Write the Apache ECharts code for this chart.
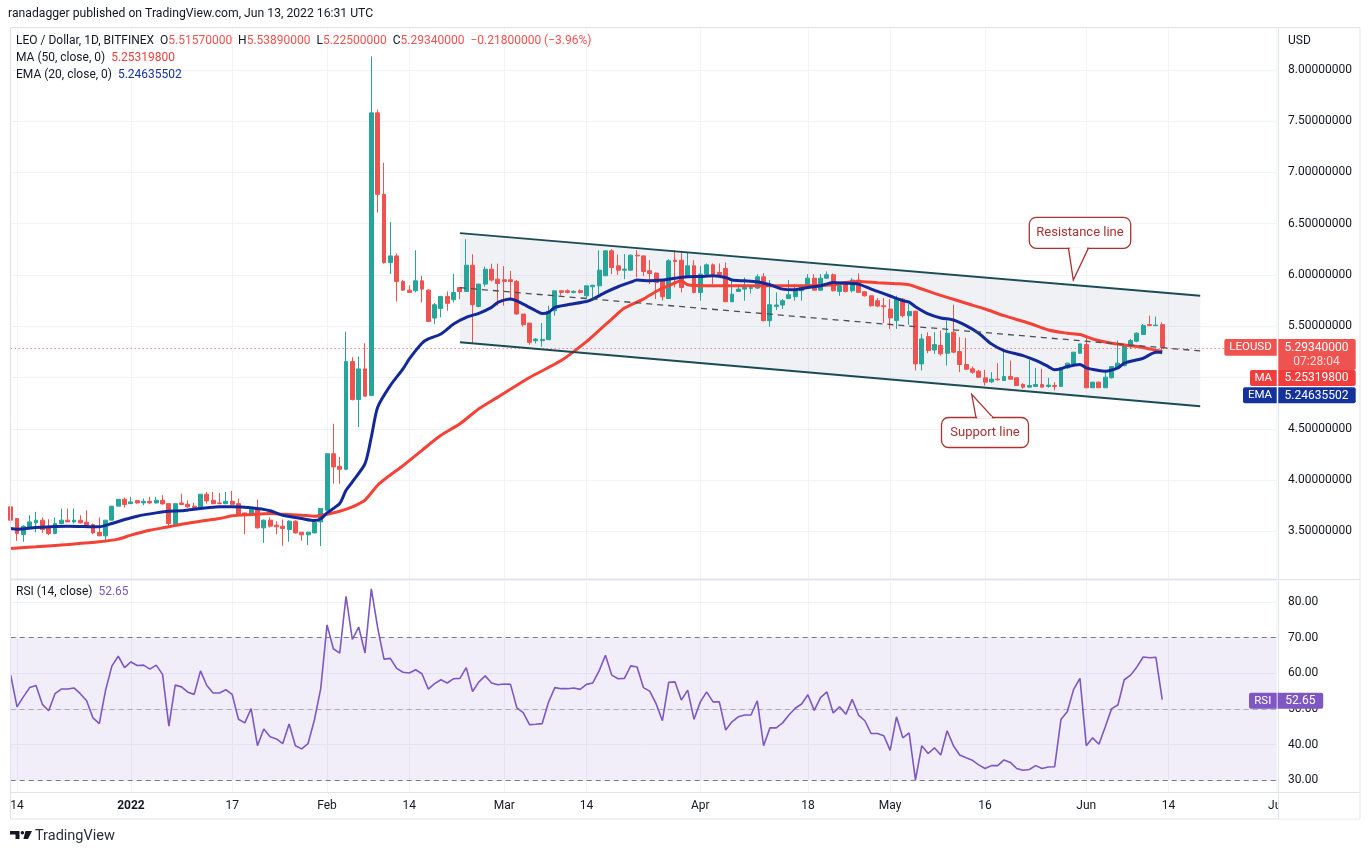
<!DOCTYPE html>
<html>
<head>
<meta charset="utf-8">
<title>LEO / Dollar, 1D, BITFINEX</title>
<script src="https://cdn.jsdelivr.net/npm/echarts@6/dist/echarts.min.js"></script>
<style>
  html, body { margin: 0; padding: 0; background: #fff; }
  #chart { width: 1370px; height: 855px; }
</style>
</head>
<body>
<div id="chart"></div>
<script>
// daily candles starting 2021-12-13, rows are [open, high, low, close]
const candles = [
  [3.739, 3.75, 3.595, 3.609],
  [3.625, 3.63, 3.408, 3.479], [3.469, 3.56, 3.398, 3.55], [3.534, 3.657, 3.53, 3.592], [3.583, 3.69, 3.49, 3.609],
  [3.609, 3.635, 3.485, 3.518], [3.537, 3.618, 3.463, 3.479], [3.479, 3.635, 3.472, 3.576], [3.576, 3.722, 3.57, 3.609],
  [3.609, 3.722, 3.592, 3.592], [3.592, 3.722, 3.576, 3.609], [3.609, 3.657, 3.576, 3.583], [3.589, 3.706, 3.544, 3.557],
  [3.566, 3.576, 3.472, 3.485], [3.489, 3.635, 3.456, 3.456], [3.456, 3.609, 3.408, 3.609], [3.609, 3.745, 3.609, 3.745],
  [3.745, 3.813, 3.745, 3.813], [3.813, 3.829, 3.732, 3.761], [3.77, 3.836, 3.77, 3.787], [3.8, 3.803, 3.77, 3.777],
  [3.777, 3.819, 3.755, 3.793], [3.793, 3.836, 3.764, 3.777], [3.777, 3.836, 3.77, 3.803], [3.803, 3.852, 3.761, 3.767],
  [3.77, 3.77, 3.55, 3.576], [3.57, 3.77, 3.56, 3.77], [3.777, 3.868, 3.755, 3.761], [3.764, 3.803, 3.729, 3.739],
  [3.745, 3.777, 3.722, 3.732], [3.732, 3.862, 3.722, 3.862], [3.862, 3.884, 3.77, 3.797], [3.803, 3.884, 3.764, 3.77],
  [3.777, 3.874, 3.764, 3.77], [3.77, 3.884, 3.764, 3.793], [3.793, 3.894, 3.755, 3.764], [3.77, 3.82, 3.657, 3.667],
  [3.68, 3.68, 3.472, 3.667], [3.657, 3.722, 3.648, 3.716], [3.716, 3.81, 3.527, 3.534], [3.534, 3.615, 3.388, 3.609],
  [3.609, 3.635, 3.537, 3.55], [3.56, 3.599, 3.472, 3.544], [3.55, 3.615, 3.359, 3.527], [3.518, 3.609, 3.398, 3.599],
  [3.599, 3.609, 3.479, 3.485], [3.492, 3.492, 3.408, 3.466], [3.466, 3.492, 3.366, 3.492], [3.485, 3.596, 3.479, 3.589],
  [3.592, 3.722, 3.356, 3.722], [3.706, 4.257, 3.7, 4.257], [4.257, 4.549, 3.965, 4.128], [4.134, 4.225, 3.965, 4.105],
  [4.105, 5.447, 4.095, 5.155], [5.155, 5.198, 4.776, 4.786], [4.786, 5.204, 4.517, 5.084], [5.084, 5.334, 4.818, 4.818],
  [4.825, 8.132, 4.818, 7.581], [7.581, 7.613, 6.608, 6.786], [6.786, 7.094, 6.11, 6.121], [6.121, 6.517, 6.008, 6.186],
  [6.186, 6.209, 5.742, 5.937], [5.937, 5.95, 5.846, 5.852], [5.852, 5.9, 5.83, 5.83], [5.846, 6.241, 5.83, 5.943],
  [5.943, 5.992, 5.732, 5.862], [5.852, 5.862, 5.547, 5.547], [5.58, 5.726, 5.521, 5.71], [5.674, 5.791, 5.586, 5.791],
  [5.791, 5.839, 5.651, 5.723], [5.758, 6.008, 5.732, 5.829], [5.878, 5.878, 5.765, 5.839], [5.839, 6.348, 5.839, 6.095],
  [6.095, 6.202, 5.333, 5.71], [5.693, 5.911, 5.684, 5.911], [5.911, 6.082, 5.885, 6.056], [6.056, 6.11, 5.937, 5.95],
  [5.959, 6.11, 5.7, 5.917], [5.953, 6.086, 5.7, 5.937], [5.953, 6.04, 5.75, 5.937], [5.937, 5.95, 5.612, 5.619],
  [5.619, 5.619, 5.495, 5.515], [5.531, 5.531, 5.32, 5.343], [5.359, 5.385, 5.333, 5.375], [5.359, 5.531, 5.3, 5.372],
  [5.369, 5.7, 5.369, 5.645], [5.651, 5.846, 5.603, 5.846], [5.846, 5.85, 5.8, 5.83], [5.846, 5.86, 5.82, 5.83],
  [5.83, 5.85, 5.82, 5.84], [5.846, 5.86, 5.82, 5.83], [5.797, 5.894, 5.765, 5.894], [5.885, 5.9, 5.748, 5.9],
  [5.894, 6.241, 5.813, 6.047], [5.992, 6.241, 5.992, 6.235], [6.235, 6.251, 6.008, 6.073], [6.089, 6.2, 6.0, 6.047],
  [6.047, 6.203, 5.959, 6.057], [6.047, 6.2, 6.04, 6.193], [6.193, 6.242, 5.976, 6.186], [6.186, 6.19, 5.99, 6.034],
  [6.041, 6.144, 5.911, 6.015], [6.018, 6.024, 5.765, 5.927], [5.943, 5.95, 5.749, 5.788], [5.771, 6.154, 5.765, 6.138],
  [6.144, 6.242, 5.878, 6.131], [6.144, 6.235, 5.83, 5.878], [5.992, 6.219, 5.976, 6.089], [6.089, 6.144, 5.82, 5.83],
  [5.83, 6.089, 5.749, 6.008], [6.008, 6.112, 5.982, 6.099], [6.099, 6.112, 5.911, 6.008], [6.024, 6.112, 5.99, 6.002],
  [6.063, 6.122, 5.735, 5.739], [5.739, 5.959, 5.735, 5.813], [5.839, 5.895, 5.835, 5.862], [5.862, 5.976, 5.749, 5.878],
  [5.869, 5.88, 5.82, 5.878], [5.872, 6.008, 5.862, 5.982], [5.982, 6.018, 5.55, 5.554], [5.554, 5.95, 5.496, 5.71],
  [5.694, 5.83, 5.658, 5.707], [5.707, 5.765, 5.668, 5.749], [5.771, 5.95, 5.765, 5.807], [5.788, 5.911, 5.749, 5.852],
  [5.846, 5.895, 5.749, 5.895], [5.885, 6.008, 5.878, 5.969], [5.969, 6.008, 5.852, 5.852], [5.852, 6.008, 5.846, 5.969],
  [5.969, 6.034, 5.959, 6.002], [6.002, 6.015, 5.839, 5.846], [5.839, 5.911, 5.797, 5.895], [5.927, 5.93, 5.83, 5.839],
  [5.846, 5.969, 5.83, 5.95], [5.95, 6.015, 5.83, 5.83], [5.836, 5.84, 5.79, 5.797], [5.797, 5.8, 5.69, 5.7],
  [5.749, 5.775, 5.684, 5.697], [5.7, 5.775, 5.531, 5.69], [5.668, 5.766, 5.474, 5.581], [5.555, 5.798, 5.474, 5.765],
  [5.765, 5.775, 5.586, 5.603], [5.603, 5.717, 5.515, 5.645], [5.646, 5.652, 5.068, 5.133], [5.133, 5.425, 5.068, 5.376],
  [5.399, 5.441, 5.237, 5.263], [5.269, 5.441, 5.231, 5.321], [5.312, 5.458, 5.214, 5.231], [5.237, 5.555, 5.117, 5.432],
  [5.441, 5.71, 5.237, 5.247], [5.253, 5.393, 5.052, 5.127], [5.127, 5.386, 5.075, 5.081], [5.085, 5.107, 5.036, 5.052],
  [5.062, 5.075, 4.997, 5.003], [4.997, 5.075, 4.922, 4.955], [4.958, 5.052, 4.945, 4.984], [4.984, 5.14, 4.971, 4.978],
  [4.971, 5.279, 4.965, 5.01], [5.01, 5.166, 4.978, 4.984], [4.997, 5.003, 4.919, 4.922], [4.932, 4.945, 4.89, 4.906],
  [4.906, 5.172, 4.906, 4.922], [4.913, 5.094, 4.906, 4.932], [4.932, 5.085, 4.906, 4.906], [4.913, 4.997, 4.9, 4.926],
  [4.922, 4.955, 4.874, 4.913], [4.913, 5.101, 4.913, 5.094], [5.094, 5.14, 5.085, 5.14], [5.133, 5.247, 5.127, 5.247],
  [5.237, 5.328, 5.231, 5.328], [5.321, 5.386, 4.9, 4.9], [4.9, 4.955, 4.9, 4.955], [4.955, 4.96, 4.9, 4.9],
  [4.9, 5.052, 4.9, 5.003], [4.997, 5.107, 4.99, 5.107], [5.094, 5.36, 5.085, 5.14], [5.117, 5.328, 5.107, 5.321],
  [5.321, 5.376, 5.279, 5.36], [5.354, 5.441, 5.344, 5.432], [5.419, 5.522, 5.419, 5.506], [5.516, 5.603, 5.506, 5.506],
  [5.506, 5.594, 5.506, 5.5114], [5.5157, 5.5389, 5.225, 5.2934]
];

// RSI(14), one value per day from 2021-12-13
const rsi14 = [
  59.5,
  50.6, 53.4, 56.0, 56.6, 51.3, 49.5, 54.3, 55.6, 55.6, 55.9,
  54.3, 52.3, 47.5, 45.9, 55.3, 62.1, 64.8, 61.6, 63.2, 62.2,
  62.3, 61.2, 62.3, 59.7, 45.2, 56.7, 56.2, 54.7, 54.1, 60.7,
  56.6, 54.5, 54.5, 55.4, 54.1, 47.1, 46.1, 50.1, 39.7, 44.4,
  42.2, 41.6, 40.3, 45.8, 39.7, 38.8, 40.3, 46.9, 55.7, 73.6,
  66.9, 65.7, 81.6, 69.5, 73.0, 65.7, 83.7, 72.8, 64.0, 64.2,
  61.4, 60.3, 60.1, 61.0, 59.9, 55.6, 57.1, 58.2, 57.3, 58.5,
  58.6, 61.6, 54.9, 57.6, 59.3, 57.3, 56.8, 57.0, 56.9, 50.3,
  49.0, 45.6, 45.7, 45.9, 51.9, 56.0, 55.7, 55.7, 55.9, 55.5,
  56.9, 57.3, 60.7, 65.1, 59.5, 58.5, 58.6, 62.1, 61.8, 56.0,
  55.0, 51.5, 46.7, 57.5, 57.6, 52.5, 55.3, 47.1, 52.0, 54.8,
  52.0, 52.0, 44.1, 46.4, 47.8, 48.3, 48.3, 52.3, 39.7, 44.7,
  44.7, 46.1, 48.3, 50.2, 51.4, 54.0, 49.6, 53.2, 54.8, 48.9,
  50.6, 48.5, 52.7, 48.3, 46.7, 43.1, 43.1, 42.5, 38.4, 47.8,
  41.9, 43.3, 30.1, 39.7, 37.5, 39.1, 37.1, 43.9, 39.7, 37.1,
  36.3, 35.6, 34.3, 33.3, 34.1, 34.1, 35.7, 35.0, 33.3, 32.8,
  33.0, 34.1, 33.3, 33.7, 33.8, 47.1, 49.2, 55.5, 58.6, 39.7,
  41.9, 40.1, 45.0, 50.1, 51.1, 58.2, 59.5, 61.8, 64.6, 64.4,
  64.5, 52.65
];

// moving averages: [day index from 2021-12-13, value]
const ma50 = [
  [0, 3.333], [4, 3.349], [9, 3.372], [14, 3.398], [17, 3.424], [19, 3.463], [22, 3.511], [25, 3.544],
  [27, 3.57], [30, 3.599], [33, 3.625], [35, 3.651], [38, 3.664], [41, 3.674], [43, 3.667], [46, 3.657],
  [48, 3.648], [50, 3.667], [52, 3.696], [54, 3.739], [56, 3.805], [58, 3.95], [60, 4.05], [62, 4.14],
  [65, 4.29], [68, 4.436], [71, 4.549], [74, 4.695], [77, 4.809], [82, 5.0], [87, 5.165], [91, 5.35],
  [93, 5.46], [95, 5.57], [97, 5.677], [100, 5.765], [102, 5.839], [104, 5.895], [106, 5.943], [107, 5.904],
  [110, 5.895], [115, 5.895], [120, 5.895], [125, 5.895], [130, 5.904], [132, 5.927], [134, 5.937], [137, 5.925],
  [140, 5.915], [142, 5.905], [144, 5.863], [146, 5.821], [148, 5.782], [151, 5.724], [154, 5.668], [157, 5.603],
  [161, 5.529], [164, 5.464], [167, 5.432], [169, 5.419], [171, 5.376], [174, 5.334], [178, 5.302], [180, 5.279],
  [182, 5.2532]
];
const ema20 = [
  [0, 3.528], [1, 3.521], [4, 3.537], [9, 3.55], [14, 3.544], [16, 3.576], [18, 3.615], [20, 3.648],
  [23, 3.68], [25, 3.696], [27, 3.70], [29, 3.716], [31, 3.729], [33, 3.739], [35, 3.739], [38, 3.729],
  [41, 3.70], [43, 3.657], [46, 3.625], [48, 3.605], [49, 3.622], [50, 3.68], [52, 3.771], [53, 3.9],
  [54, 3.982], [56, 4.16], [57, 4.42], [58, 4.711], [60, 4.922], [62, 5.084], [63, 5.181], [65, 5.334],
  [66, 5.376], [68, 5.425], [70, 5.522], [72, 5.587], [74, 5.626], [76, 5.684], [77, 5.732], [79, 5.765],
  [81, 5.716], [83, 5.651], [84, 5.625], [85, 5.635], [86, 5.684], [88, 5.71], [91, 5.742], [92, 5.765],
  [94, 5.83], [96, 5.885], [98, 5.93], [99, 5.95], [101, 5.943], [103, 5.95], [105, 5.969], [107, 5.982],
  [109, 5.985], [111, 5.992], [113, 5.976], [114, 5.95], [116, 5.943], [118, 5.933], [120, 5.904], [122, 5.862],
  [124, 5.856], [126, 5.878], [128, 5.895], [130, 5.927], [132, 5.92], [134, 5.911], [136, 5.862], [137, 5.84],
  [139, 5.795], [141, 5.75], [142, 5.735], [143, 5.69], [145, 5.62], [147, 5.581], [149, 5.561], [151, 5.506],
  [153, 5.432], [155, 5.328], [157, 5.263], [160, 5.214], [162, 5.166], [164, 5.107], [165, 5.075], [166, 5.085],
  [167, 5.107], [169, 5.127], [170, 5.094], [172, 5.068], [173, 5.062], [175, 5.094], [176, 5.14], [179, 5.188],
  [181, 5.247], [182, 5.246]
];

// descending channel drawn on the chart: [day index, price]
const resistance = [[71, 6.408], [188, 5.798]];
const support = [[71, 5.343], [188, 4.72]];
const midline = [[71, 5.876], [188, 5.259]];
const lastClose = 5.2934;

const tickDates = ['2021-12-14', '2022-01-01', '2022-01-17', '2022-02-01', '2022-02-14', '2022-03-01', '2022-03-14',
  '2022-04-01', '2022-04-18', '2022-05-01', '2022-05-16', '2022-06-01', '2022-06-14', '2022-07-01'];
const tickText = ['14', '2022', '17', 'Feb', '14', 'Mar', '14', 'Apr', '18', 'May', '16', 'Jun', '14', 'Jul'];

const days = [];
const t0 = Date.UTC(2021, 11, 13);
for (let k = 0; k < 201; k++) {
  days.push(new Date(t0 + k * 864e5).toISOString().slice(0, 10));
}

const UP = '#26a69a', DOWN = '#ef5350', TXT = '#131722', GRIDC = '#f0f3fa';
const FONT = 'Roboto, "Noto Sans", sans-serif';
const isTick = (idx, val) => tickDates.indexOf(val) >= 0;

const chart = echarts.init(document.getElementById('chart'), null, { renderer: 'canvas' });

function txt(x, y, text, opts) {
  return {
    type: 'text', x: x, y: y, z: 100, silent: true,
    style: Object.assign({
      text: text, fill: TXT, fontSize: 12, fontFamily: FONT,
      align: 'left', verticalAlign: 'middle', textAlign: 'left', textVerticalAlign: 'middle'
    }, opts || {})
  };
}
function box(x, y, w, h, fill, r) {
  return { type: 'rect', z: 99, silent: true, shape: { x: x, y: y, width: w, height: h, r: r || 0 }, style: { fill: fill } };
}
function callout(x, y, w, h, tail, label) {
  return [
    { type: 'polygon', z: 98, silent: true, shape: { points: tail },
      style: { fill: '#fff', stroke: '#a93232', lineWidth: 1.3 } },
    { type: 'rect', z: 97, silent: true, shape: { x: x, y: y, width: w, height: h, r: 7 },
      style: { fill: '#fff', stroke: '#a93232', lineWidth: 1.3 } },
    { type: 'line', z: 99, silent: true, shape: { x1: tail[0][0] + 1.2, y1: tail[0][1], x2: tail[2][0] - 1.2, y2: tail[2][1] },
      style: { stroke: '#fff', lineWidth: 2.4 } },
    txt(x + w / 2, y + h / 2, label, { fill: '#a93232', fontSize: 13, align: 'center', textAlign: 'center' })
  ];
}

const legendRich = (valueColor) => ({
  k: { fill: TXT, fontSize: 12, fontFamily: FONT },
  v: { fill: valueColor, fontSize: 12, fontFamily: FONT }
});

const graphics = [
  // frame and pane separators
  { type: 'rect', z: 90, silent: true, shape: { x: 10.5, y: 27.5, width: 1349.5, height: 791.5 },
    style: { fill: 'none', stroke: '#e0e3eb', lineWidth: 1 } },
  { type: 'line', z: 90, silent: true, shape: { x1: 10.5, y1: 579.5, x2: 1360, y2: 579.5 }, style: { stroke: '#e0e3eb', lineWidth: 1 } },
  { type: 'line', z: 90, silent: true, shape: { x1: 10.5, y1: 792.5, x2: 1360, y2: 792.5 }, style: { stroke: '#e0e3eb', lineWidth: 1 } },
  { type: 'rect', z: 95, silent: true, shape: { x: 1279, y: 793.5, width: 80, height: 25 }, style: { fill: '#fff' } },
  { type: 'line', z: 96, silent: true, shape: { x1: 1278.5, y1: 27.5, x2: 1278.5, y2: 819 }, style: { stroke: '#e0e3eb', lineWidth: 1 } },

  // header and legends
  txt(8, 14, 'ranadagger published on TradingView.com, Jun 13, 2022 16:31 UTC', { fontSize: 12.2 }),
  txt(16, 41, '{k|LEO / Dollar, 1D, BITFINEX}  {k|O}{v|5.51570000}  {k|H}{v|5.53890000}  {k|L}{v|5.22500000}  {k|C}{v|5.29340000}  {v|\u22120.21800000 (\u22123.96%)}',
    { rich: legendRich(DOWN) }),
  txt(16, 58, '{k|MA (50, close, 0)}  {v|5.25319800}', { rich: legendRich('#f23d3d') }),
  txt(16, 75, '{k|EMA (20, close, 0)}  {v|5.24635502}', { rich: legendRich('#13329b') }),
  txt(16, 592, '{k|RSI (14, close)}  {v|52.65}', { rich: legendRich('#7e57c2') }),
  txt(1288, 41, 'USD'),

  // price tags on the right scale
  box(1224.3, 339, 52.4, 16.7, DOWN, [2, 0, 0, 2]),
  txt(1250.5, 347.5, 'LEOUSD', { fill: '#fff', fontSize: 11.5, align: 'center', textAlign: 'center' }),
  box(1278.3, 339, 77.4, 31, DOWN, [0, 2, 2, 0]),
  txt(1316.5, 347.5, '5.29340000', { fill: '#fff', align: 'center', textAlign: 'center' }),
  txt(1316.5, 362, '07:28:04', { fill: 'rgba(255,255,255,0.8)', align: 'center', textAlign: 'center' }),
  box(1250, 370, 26.7, 16, '#f23d3d', [2, 0, 0, 2]),
  txt(1263.3, 378.3, 'MA', { fill: '#fff', fontSize: 11.5, align: 'center', textAlign: 'center' }),
  box(1278.3, 370, 77.4, 16, '#f23d3d', [0, 2, 2, 0]),
  txt(1316.5, 378.3, '5.25319800', { fill: '#fff', align: 'center', textAlign: 'center' }),
  box(1243, 387.3, 33.7, 16, '#13329b', [2, 0, 0, 2]),
  txt(1260, 395.5, 'EMA', { fill: '#fff', fontSize: 11.5, align: 'center', textAlign: 'center' }),
  box(1278.3, 387.3, 77.4, 16, '#13329b', [0, 2, 2, 0]),
  txt(1316.5, 395.5, '5.24635502', { fill: '#fff', align: 'center', textAlign: 'center' }),
  box(1249, 692.7, 27.7, 16, '#7e57c2', [2, 0, 0, 2]),
  txt(1262.8, 701, 'RSI', { fill: '#fff', fontSize: 11.5, align: 'center', textAlign: 'center' }),
  box(1277.6, 692.7, 45.6, 16, '#7e57c2', [0, 2, 2, 0]),
  txt(1300.4, 701, '52.65', { fill: '#fff', align: 'center', textAlign: 'center' }),

  // footer logo
  { type: 'polygon', z: 100, silent: true,
    shape: { points: [[10, 831], [19.5, 831], [19.5, 839], [15.5, 839], [15.5, 834.6], [10, 834.6]] }, style: { fill: TXT } },
  { type: 'circle', z: 100, silent: true, shape: { cx: 22.4, cy: 832.8, r: 1.8 }, style: { fill: TXT } },
  { type: 'polygon', z: 100, silent: true,
    shape: { points: [[25.5, 831], [32, 831], [28, 839], [23.4, 839]] }, style: { fill: TXT } },
  txt(35, 836.5, 'TradingView', { fontSize: 14.5, fill: '#2a2e39' })
].concat(
  callout(1029.3, 217.3, 101.4, 31, [[1068.5, 248.3], [1073.3, 280], [1088.3, 248.3]], 'Resistance line'),
  callout(941.5, 417.5, 87, 30, [[976, 417.5], [971.7, 394.3], [993, 417.5]], 'Support line')
);

const option = {
  animation: false,
  backgroundColor: '#fff',
  textStyle: { fontFamily: FONT },
  grid: [
    { left: 10.7, top: 27, width: 1265.4, height: 551 },
    { left: 10.7, top: 580, width: 1265.4, height: 212 }
  ],
  xAxis: [
    { type: 'category', gridIndex: 0, data: days, boundaryGap: false,
      axisLine: { show: false }, axisTick: { show: false }, axisLabel: { show: false },
      splitLine: { show: true, interval: isTick, lineStyle: { color: GRIDC, width: 1 } } },
    { type: 'category', gridIndex: 1, data: days, boundaryGap: false,
      axisLine: { show: false }, axisTick: { show: false },
      axisLabel: {
        interval: isTick, margin: 8, color: TXT, fontSize: 12, fontFamily: FONT,
        formatter: function (v) {
          const t = tickText[tickDates.indexOf(v)];
          return /^\d{4}$/.test(t) ? '{b|' + t + '}' : t;
        },
        rich: { b: { fontWeight: 'bold', fontSize: 12, color: TXT, fontFamily: FONT } }
      },
      splitLine: { show: true, interval: isTick, lineStyle: { color: GRIDC, width: 1 } } }
  ],
  yAxis: [
    { type: 'value', gridIndex: 0, position: 'right', min: 3.045, max: 8.418,
      splitNumber: 11, minInterval: 0.5, maxInterval: 0.5,
      axisLine: { show: false }, axisTick: { show: false },
      axisLabel: { margin: 12, color: TXT, fontSize: 12, fontFamily: FONT, showMinLabel: false, showMaxLabel: false,
        formatter: v => v.toFixed(8) },
      splitLine: { lineStyle: { color: GRIDC } } },
    { type: 'value', gridIndex: 1, position: 'right', min: 26.7, max: 86.2,
      splitNumber: 6, minInterval: 10, maxInterval: 10,
      axisLine: { show: false }, axisTick: { show: false },
      axisLabel: { margin: 12, color: TXT, fontSize: 12, fontFamily: FONT, showMinLabel: false, showMaxLabel: false,
        formatter: v => v.toFixed(2) },
      splitLine: { lineStyle: { color: GRIDC } } }
  ],
  series: [
    {
      name: 'channel', type: 'custom', xAxisIndex: 0, yAxisIndex: 0, z: 1, silent: true,
      encode: { x: [0, 2], y: [1, 3, 4, 5] },
      data: [[resistance[0][0], resistance[0][1], resistance[1][0], resistance[1][1], support[1][1], support[0][1]]],
      renderItem: function (params, api) {
        const pts = [
          api.coord([api.value(0), api.value(1)]),
          api.coord([api.value(2), api.value(3)]),
          api.coord([api.value(2), api.value(4)]),
          api.coord([api.value(0), api.value(5)])
        ];
        return { type: 'polygon', shape: { points: pts }, style: { fill: 'rgba(120,130,155,0.11)' } };
      }
    },
    {
      name: 'LEOUSD', type: 'candlestick', xAxisIndex: 0, yAxisIndex: 0, z: 3,
      barWidth: 4.4, clip: true,
      data: candles.map(c => [c[0], c[3], c[2], c[1]]),
      itemStyle: { color: UP, color0: DOWN, borderColor: UP, borderColor0: DOWN, borderWidth: 1 },
      markLine: {
        silent: true, symbol: 'none', label: { show: false },
        lineStyle: { color: DOWN, type: [1, 3], width: 1 },
        data: [{ yAxis: lastClose }]
      }
    },
    {
      name: 'MA 50', type: 'line', xAxisIndex: 0, yAxisIndex: 0, z: 4, data: ma50,
      showSymbol: false, smooth: 0.25, lineStyle: { color: '#f44336', width: 3 }
    },
    {
      name: 'EMA 20', type: 'line', xAxisIndex: 0, yAxisIndex: 0, z: 5, data: ema20,
      showSymbol: false, smooth: 0.25, lineStyle: { color: '#13299a', width: 3 }
    },
    {
      name: 'Resistance', type: 'line', xAxisIndex: 0, yAxisIndex: 0, z: 6, data: resistance,
      showSymbol: false, lineStyle: { color: '#1b4c55', width: 2 }
    },
    {
      name: 'Support', type: 'line', xAxisIndex: 0, yAxisIndex: 0, z: 6, data: support,
      showSymbol: false, lineStyle: { color: '#1b4c55', width: 2 }
    },
    {
      name: 'Mid', type: 'line', xAxisIndex: 0, yAxisIndex: 0, z: 6, data: midline,
      showSymbol: false, lineStyle: { color: '#4a4d57', width: 1.3, type: [6, 5] }
    },
    {
      name: 'RSI', type: 'line', xAxisIndex: 1, yAxisIndex: 1, z: 5, data: rsi14,
      showSymbol: false, lineStyle: { color: '#7e57c2', width: 1.6 },
      markArea: {
        silent: true, itemStyle: { color: 'rgba(126,87,194,0.1)' },
        data: [[{ yAxis: 30 }, { yAxis: 70 }]]
      },
      markLine: {
        silent: true, symbol: 'none', label: { show: false },
        data: [
          { yAxis: 70, lineStyle: { color: '#787b86', type: [5, 4], width: 1 } },
          { yAxis: 50, lineStyle: { color: '#a9abb3', type: [5, 4], width: 1 } },
          { yAxis: 30, lineStyle: { color: '#787b86', type: [5, 4], width: 1 } }
        ]
      }
    }
  ],
  graphic: graphics
};

chart.setOption(option);
</script>
</body>
</html>
